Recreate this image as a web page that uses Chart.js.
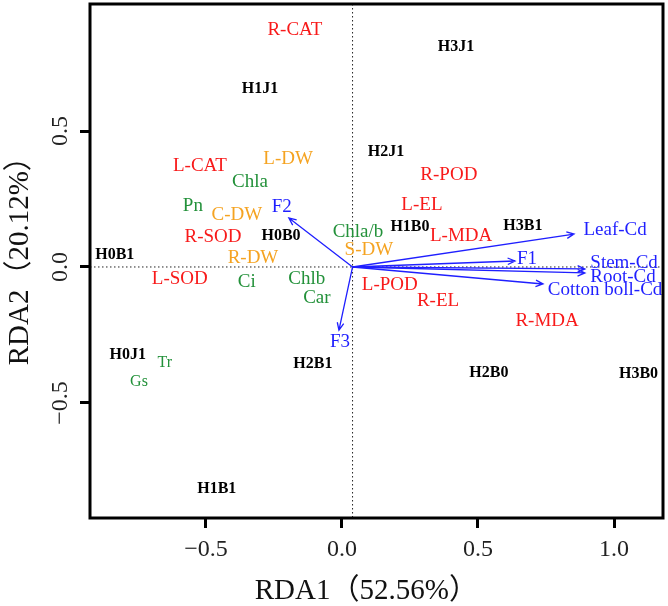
<!DOCTYPE html>
<html>
<head>
<meta charset="utf-8">
<script src="https://cdn.jsdelivr.net/npm/chart.js@4"></script>
<style>
  html, body { margin: 0; padding: 0; background: #fff; }
</style>
</head>
<body>
<canvas id="rda" width="668" height="606"></canvas>
<script>
// RDA biplot - scores
const xTicks = [-0.5, 0, 0.5, 1.0];
const yTicks = [-0.5, 0, 0.5];
const origin = [0.039, 0];

const siteNames = ['H3J1', 'H1J1', 'H2J1', 'H1B0', 'H3B1', 'H0B0', 'H0B1', 'H0J1', 'H2B1', 'H2B0', 'H3B0', 'H1B1'];
const siteX = [0.419, -0.301, 0.162, 0.250, 0.665, -0.224, -0.835, -0.787, -0.107, 0.540, 1.090, -0.460];
const siteY = [0.809, 0.654, 0.423, 0.147, 0.151, 0.114, 0.044, -0.324, -0.357, -0.390, -0.393, -0.816];

const redNames = ['R-CAT', 'L-CAT', 'R-SOD', 'L-SOD', 'R-POD', 'L-EL', 'L-MDA', 'L-POD', 'R-EL', 'R-MDA'];
const redX = [-0.173, -0.522, -0.474, -0.596, 0.393, 0.294, 0.438, 0.176, 0.353, 0.754];
const redY = [0.871, 0.371, 0.110, -0.044, 0.338, 0.228, 0.114, -0.066, -0.125, -0.199];

const orangeNames = ['L-DW', 'C-DW', 'R-DW', 'S-DW'];
const orangeX = [-0.198, -0.386, -0.327, 0.099];
const orangeY = [0.397, 0.191, 0.033, 0.063];

const greenNames = ['Chla', 'Pn', 'Chla/b', 'Ci', 'Chlb', 'Car'];
const greenX = [-0.338, -0.548, 0.059, -0.350, -0.129, -0.092];
const greenY = [0.313, 0.224, 0.129, -0.055, -0.044, -0.114];

const gasNames = ['Tr', 'Gs'];
const gasX = [-0.651, -0.746];
const gasY = [-0.353, -0.423];

const arrowNames = ['Leaf-Cd', 'F1', 'Stem-Cd', 'Root-Cd', 'Cotton boll-Cd', 'F2', 'F3'];
const arrowX = [0.853, 0.636, 0.893, 0.893, 0.739, -0.195, -0.011];
const arrowY = [0.121, 0.022, -0.007, -0.022, -0.0625, 0.180, -0.232];
const arrowLabelX = [1.004, 0.680, 1.037, 1.033, 0.967, -0.221, -0.007];
const arrowLabelY = [0.136, 0.029, 0.015, -0.037, -0.085, 0.221, -0.276];

const serif = "'Liberation Serif', 'Times New Roman', 'Noto Sans CJK SC', serif";

function pts(xs, ys) {
  return xs.map((x, i) => ({ x: x, y: ys[i] }));
}

function fmt(v) {
  return (v < 0 ? '\u2212' : '') + Math.abs(v).toFixed(1);
}

const rdaPlugin = {
  id: 'rdaPlugin',
  beforeDatasetsDraw(chart) {
    const { ctx, chartArea: a, scales: { x, y } } = chart;
    const ox = x.getPixelForValue(origin[0]);
    const oy = y.getPixelForValue(origin[1]);
    ctx.save();
    ctx.strokeStyle = '#222';
    ctx.lineWidth = 1;
    ctx.setLineDash([1.5, 2.5]);
    ctx.beginPath();
    ctx.moveTo(a.left, oy);
    ctx.lineTo(a.right, oy);
    ctx.moveTo(ox, a.top);
    ctx.lineTo(ox, a.bottom);
    ctx.stroke();
    ctx.restore();
  },
  afterDatasetsDraw(chart) {
    const { ctx, chartArea: a, scales: { x, y } } = chart;
    const ox = x.getPixelForValue(origin[0]);
    const oy = y.getPixelForValue(origin[1]);

    chart.data.datasets.forEach((ds, i) => {
      const meta = chart.getDatasetMeta(i);
      if (ds.arrows) {
        ctx.save();
        ctx.strokeStyle = ds.textColor;
        ctx.lineWidth = 1.3;
        meta.data.forEach(el => {
          const ang = Math.atan2(el.y - oy, el.x - ox);
          const h = 8;
          ctx.beginPath();
          ctx.moveTo(ox, oy);
          ctx.lineTo(el.x, el.y);
          ctx.moveTo(el.x - h * Math.cos(ang - 0.42), el.y - h * Math.sin(ang - 0.42));
          ctx.lineTo(el.x, el.y);
          ctx.lineTo(el.x - h * Math.cos(ang + 0.42), el.y - h * Math.sin(ang + 0.42));
          ctx.stroke();
        });
        ctx.restore();
      }
      if (ds.names) {
        ctx.save();
        ctx.fillStyle = ds.textColor;
        ctx.font = ds.textFont;
        ctx.textAlign = 'center';
        ctx.textBaseline = 'middle';
        meta.data.forEach((el, j) => ctx.fillText(ds.names[j], el.x, el.y));
        ctx.restore();
      }
    });

    // box around the plot
    ctx.save();
    ctx.strokeStyle = '#000';
    ctx.lineWidth = 3;
    ctx.strokeRect(a.left, a.top, a.right - a.left, a.bottom - a.top);
    ctx.restore();
  }
};

function textSet(names, xs, ys, color, font) {
  return {
    data: pts(xs, ys),
    names: names,
    textColor: color,
    textFont: font,
    pointRadius: 0,
    pointHoverRadius: 0,
    showLine: false
  };
}

const arrowSet = textSet(null, arrowX, arrowY, '#1f1fff', '');
arrowSet.arrows = true;

const ctx = document.getElementById('rda').getContext('2d');
const chart = new Chart(ctx, {
  type: 'scatter',
  data: {
    datasets: [
      arrowSet,
      textSet(arrowNames, arrowLabelX, arrowLabelY, '#1f1fff', '19px ' + serif),
      textSet(siteNames, siteX, siteY, '#000', 'bold 16px ' + serif),
      textSet(redNames, redX, redY, '#f81a1a', '19px ' + serif),
      textSet(orangeNames, orangeX, orangeY, '#f5a321', '19px ' + serif),
      textSet(greenNames, greenX, greenY, '#23913a', '19px ' + serif),
      textSet(gasNames, gasX, gasY, '#23913a', '16px ' + serif)
    ]
  },
  options: {
    responsive: false,
    animation: false,
    events: [],
    layout: { padding: { left: 0, top: 4, right: 5, bottom: 0 } },
    plugins: {
      legend: { display: false },
      tooltip: { enabled: false }
    },
    scales: {
      x: {
        type: 'linear',
        position: 'bottom',
        min: -0.926,
        max: 1.18,
        afterBuildTicks: s => { s.ticks = xTicks.map(v => ({ value: v })); },
        afterFit: s => {
          s.height = 88;
          s.paddingLeft = 0; s.paddingRight = 0; s.paddingTop = 0; s.paddingBottom = 0;
        },
        border: { display: false },
        grid: {
          display: true,
          drawOnChartArea: false,
          drawTicks: true,
          tickLength: 10,
          lineWidth: 3,
          color: '#000'
        },
        ticks: {
          color: '#222',
          padding: 7,
          maxRotation: 0,
          font: { family: serif, size: 24 },
          callback: v => fmt(v)
        },
        title: {
          display: true,
          text: 'RDA1（52.56%）\u2002\u2009',
          color: '#111',
          padding: { top: 0, bottom: 0 },
          font: { family: serif, size: 29, lineHeight: 1 }
        }
      },
      y: {
        type: 'linear',
        position: 'left',
        min: -0.923,
        max: 0.967,
        afterBuildTicks: s => { s.ticks = yTicks.map(v => ({ value: v })); },
        afterFit: s => {
          s.width = 90;
          s.paddingLeft = 0; s.paddingRight = 0; s.paddingTop = 0; s.paddingBottom = 0;
        },
        border: { display: false },
        grid: {
          display: true,
          drawOnChartArea: false,
          drawTicks: true,
          tickLength: 10,
          lineWidth: 3,
          color: '#000'
        },
        ticks: {
          color: '#222',
          padding: -2,
          minRotation: 90,
          maxRotation: 90,
          crossAlign: 'center',
          font: { family: serif, size: 24 },
          callback: v => fmt(v)
        },
        title: {
          display: true,
          text: '\u2002RDA2（20.12%）',
          color: '#111',
          padding: { top: 6, bottom: 0 },
          font: { family: serif, size: 29, lineHeight: 1 }
        }
      }
    }
  },
  plugins: [rdaPlugin]
});
</script>
</body>
</html>
